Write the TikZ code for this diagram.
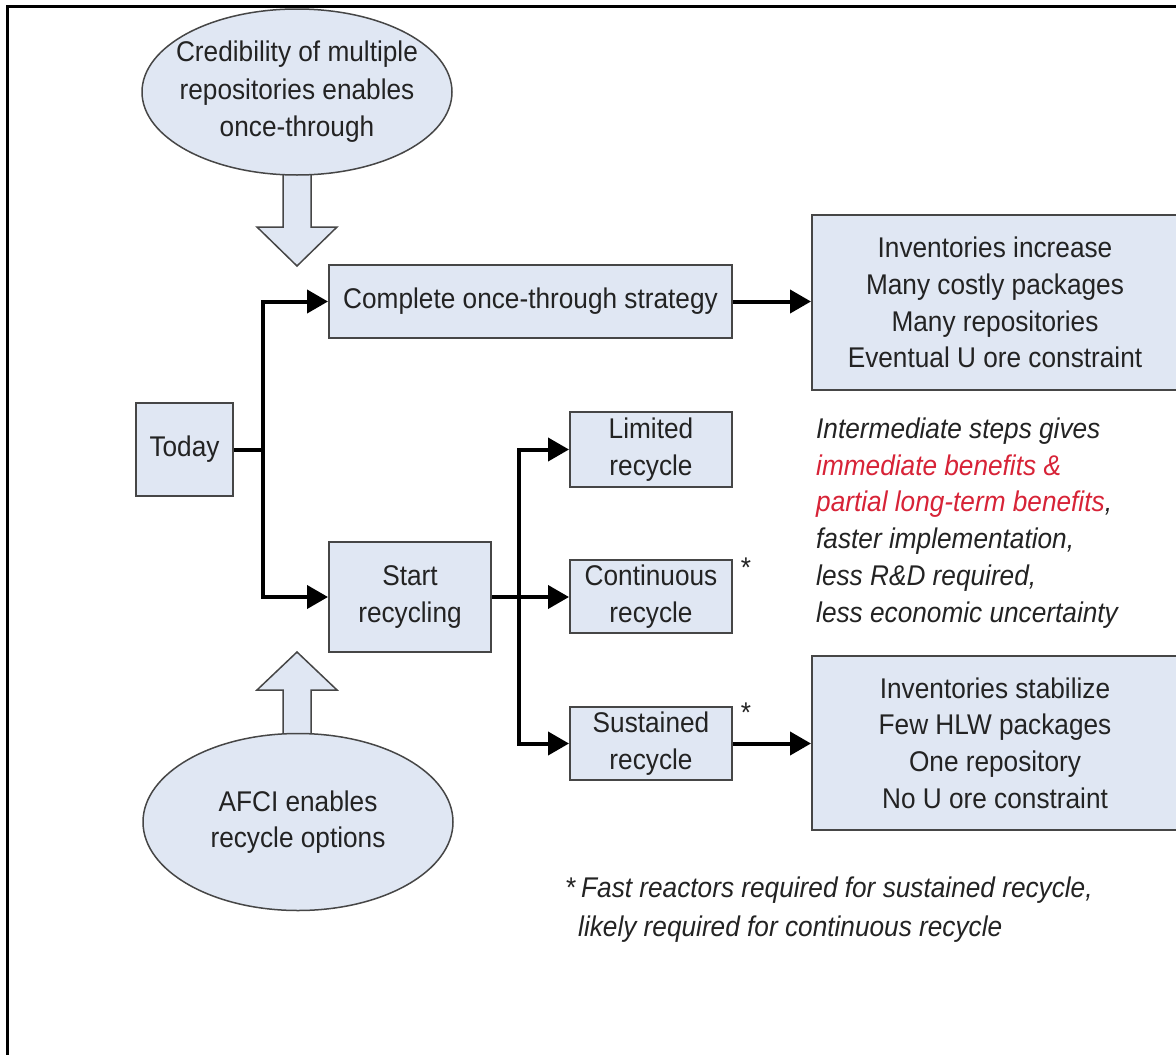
\documentclass[tikz,border=0pt]{standalone}
\usepackage{fontspec}
\setmainfont[FakeStretch=0.92]{Liberation Sans}
\usetikzlibrary{arrows.meta,shapes.geometric}
\definecolor{boxfill}{RGB}{224,231,243}
\definecolor{boxline}{RGB}{70,70,70}
\definecolor{redtxt}{RGB}{215,35,55}
\definecolor{txt}{RGB}{35,35,35}
\begin{document}
\begin{tikzpicture}[x=1pt,y=-1pt,
  every node/.style={text=txt, font=\fontsize{28.5}{36.7}\selectfont},
  box/.style={draw=boxline, line width=2pt, fill=boxfill, rectangle, align=center, inner sep=0pt},
  oval/.style={draw=boxline, line width=1.5pt, fill=boxfill, ellipse, inner sep=0pt},
  blockarrow/.style={draw=boxline, line width=1.5pt, fill=boxfill, line join=miter},
  conn/.style={draw=black, line width=4pt, -{Triangle[length=21pt,width=23pt]}},
  link/.style={draw=black, line width=4pt}
]
\useasboundingbox (0,0) rectangle (1176,1055);
% frame
\draw[line width=3pt] (1190,6) -- (7,6) -- (7,1070);

% block arrows (drawn before the ovals)
\draw[blockarrow] (283,140) -- (283,227) -- (257,227) -- (297,266) -- (337,227) -- (311,227) -- (311,140) -- cycle;
\draw[blockarrow] (283,770) -- (283,690) -- (257,690) -- (297,652) -- (337,690) -- (311,690) -- (311,770) -- cycle;

% ovals
\node[oval, minimum width=310pt, minimum height=166pt] (cred) at (297,92) {};
\node[align=center, font=\fontsize{28.5}{37.5}\selectfont] (credt) at (cred.center) {Credibility of multiple\\repositories enables\\once-through};
\node[oval, minimum width=310pt, minimum height=177pt] (afci) at (298,822) {};
\node[align=center] (afcit) at (afci.center) {AFCI enables\\recycle options};

% boxes
\node[box, minimum width=97pt, minimum height=93pt] (today) at (184.5,449.5) {Today};
\node[box, minimum width=403pt, minimum height=73pt] (complete) at (530.5,301.5) {Complete once-through strategy};
\node[box, minimum width=366pt, minimum height=175pt] (outA) at (995,302.5) {Inventories increase\\Many costly packages\\Many repositories\\Eventual U ore constraint};
\node[box, minimum width=162pt, minimum height=110pt] (start) at (410,597) {Start\\recycling};
\node[box, minimum width=162pt, minimum height=75pt] (limited) at (651,449.5) {Limited\\recycle};
\node[box, minimum width=162pt, minimum height=73pt] (contin) at (651,596.5) {Continuous\\recycle};
\node[box, minimum width=162pt, minimum height=73pt] (sustain) at (651,743.5) {Sustained\\recycle};
\node[box, minimum width=366pt, minimum height=174pt] (outB) at (995,743) {Inventories stabilize\\Few HLW packages\\One repository\\No U ore constraint};

% stars
\node (star1) at (746,568) {*};
\node (star2) at (746,713) {*};

% notes
\node[anchor=west, align=left, inner sep=0pt, font=\fontsize{28.5}{36.8}\selectfont\itshape] (steps) at (816,523)
  {Intermediate steps gives\\\textcolor{redtxt}{immediate benefits \&}\\\textcolor{redtxt}{partial long-term benefits},\\faster implementation,\\less R\&D required,\\less economic uncertainty};
\node[anchor=west, align=left, inner sep=0pt, font=\fontsize{28.5}{39}\selectfont] (foot) at (566,910)
  {*\,\textit{Fast reactors required for sustained recycle,}\\\hspace*{12pt}\textit{likely required for continuous recycle}};

% connectors
\coordinate (j1) at (263,449.5);
\draw[conn] (today.east) -- (j1) |- (complete.west);
\draw[conn] (j1) |- (start.west);
\coordinate (j2) at (519,597);
\draw[link] (start.east) -- (j2);
\draw[conn] (j2) |- (limited.west);
\draw[conn] (j2) |- (sustain.west);
\draw[conn] (j2) -- (j2 -| contin.west);
\draw[conn] (complete.east) -- (complete.east -| outA.west);
\draw[conn] (sustain.east) -- (sustain.east -| outB.west);
\end{tikzpicture}
\end{document}
